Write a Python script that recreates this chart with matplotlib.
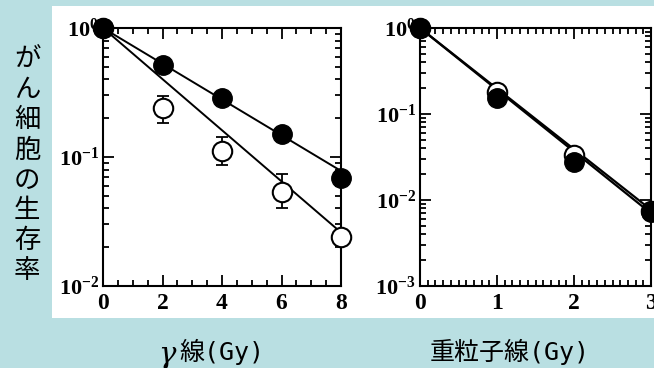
import numpy as np
import matplotlib.pyplot as plt
from matplotlib.ticker import MultipleLocator, LogLocator, FuncFormatter, NullFormatter

plt.rcParams['font.family'] = ['Noto Sans CJK JP', 'DejaVu Sans']
plt.rcParams['mathtext.fontset'] = 'custom'
plt.rcParams['mathtext.rm'] = 'Liberation Serif:bold'
plt.rcParams['mathtext.bf'] = 'Liberation Serif:bold'
plt.rcParams['mathtext.it'] = 'Liberation Serif:bold'

# γ線 データ
gamma_dose = [0, 2, 4, 6, 8]
gamma_filled = [1.0, 0.52, 0.285, 0.152, 0.069]
gamma_open = [1.0, 0.24, 0.112, 0.054, 0.024]
gamma_open_lo = [0.0, 0.185, 0.087, 0.040, 0.0]
gamma_open_hi = [0.0, 0.295, 0.143, 0.074, 0.0]
gamma_fit_filled = [1.0, 0.078]
gamma_fit_open = [1.0, 0.026]

# 重粒子線 データ
heavy_dose = [0, 1, 2, 3]
heavy_filled = [1.0, 0.155, 0.028, 0.0073]
heavy_open = [1.0, 0.178, 0.033, 0.0075]
heavy_open_hi = [0.0, 0.215, 0.0, 0.0]
heavy_fit_a = [1.0, 0.0070]
heavy_fit_b = [1.0, 0.0077]

bg = '#b9dfe2'
fig = plt.figure(figsize=(6.54, 3.68), dpi=100, facecolor='white')
W, H = 654, 368


def strip(l, t, r, b):
    fig.patches.append(plt.Rectangle((l / W, 1 - b / H), (r - l) / W, (b - t) / H,
                                     transform=fig.transFigure, facecolor=bg,
                                     edgecolor='none', zorder=-10))


# 周りの水色の枠（白いパネルの外側）
strip(0, 0, 52, 368)
strip(0, 0, 654, 6)
strip(0, 318, 654, 368)


def box(l, t, r, b):
    return [l / W, 1 - b / H, (r - l) / W, (b - t) / H]


def sci(v, pos):
    e = int(round(np.log10(v)))
    return r'$10^{%d}$' % e


def style(ax, xmin_step):
    ax.set_yscale('log')
    ax.set_facecolor('white')
    ax.xaxis.set_minor_locator(MultipleLocator(xmin_step))
    ax.yaxis.set_major_locator(LogLocator(base=10))
    ax.yaxis.set_minor_locator(LogLocator(base=10, subs=np.arange(2, 10)))
    ax.yaxis.set_major_formatter(FuncFormatter(sci))
    ax.yaxis.set_minor_formatter(NullFormatter())
    ax.tick_params(which='both', direction='in', top=True, right=True, width=1.3)
    ax.tick_params(which='major', length=8)
    ax.tick_params(which='minor', length=4)
    ax.tick_params(axis='y', labelsize=16, pad=3)
    ax.tick_params(axis='x', labelsize=17, pad=5)
    for lab in ax.get_xticklabels():
        lab.set_fontfamily('Liberation Serif')
        lab.set_fontweight('bold')
    for s in ax.spines.values():
        s.set_linewidth(1.5)


# 左: γ線
ax1 = fig.add_axes(box(103, 28, 341, 286))
ax1.plot([0, 8], gamma_fit_filled, color='black', lw=1.4, zorder=2)
ax1.plot([0, 8], gamma_fit_open, color='black', lw=1.4, zorder=2)
idx = [1, 2, 3]
ax1.errorbar([gamma_dose[i] for i in idx], [gamma_open[i] for i in idx],
             yerr=[[gamma_open[i] - gamma_open_lo[i] for i in idx],
                   [gamma_open_hi[i] - gamma_open[i] for i in idx]],
             fmt='none', ecolor='black', elinewidth=1.3, capsize=4, capthick=1.3, zorder=3)
ax1.plot(gamma_dose, gamma_open, 'o', ms=14, mfc='white', mec='black', mew=1.5,
         zorder=4, clip_on=False)
ax1.plot(gamma_dose, gamma_filled, 'o', ms=14, mfc='black', mec='black',
         zorder=5, clip_on=False)
ax1.set_xlim(0, 8)
ax1.set_ylim(1e-2, 1)
ax1.set_xticks([0, 2, 4, 6, 8])
style(ax1, 0.5)

# 右: 重粒子線
ax2 = fig.add_axes(box(420, 28, 651, 286))
ax2.plot([0, 3], heavy_fit_a, color='black', lw=1.6, zorder=2)
ax2.plot([0, 3], heavy_fit_b, color='black', lw=1.6, zorder=2)
ax2.errorbar([heavy_dose[1]], [heavy_open[1]], yerr=[[0], [heavy_open_hi[1] - heavy_open[1]]],
             fmt='none', ecolor='black', elinewidth=1.3, capsize=4, capthick=1.3, zorder=3)
ax2.plot(heavy_dose, heavy_open, 'o', ms=14, mfc='white', mec='black', mew=1.5,
         zorder=4, clip_on=False)
ax2.plot(heavy_dose, heavy_filled, 'o', ms=14, mfc='black', mec='black',
         zorder=5, clip_on=False)
ax2.set_xlim(0, 3)
ax2.set_ylim(1e-3, 1)
ax2.set_xticks([0, 1, 2, 3])
style(ax2, 0.1)

# 軸ラベル
ylab = 'がん細胞の生存率'
fig.text(27 / W, 1 - 165 / H, '\n'.join(ylab), fontsize=19, ha='center', va='center',
         linespacing=1.15, color='black')
mixed = ['DejaVu Sans Mono', 'Noto Sans CJK JP']
fig.text(167 / W, 1 - 355 / H, 'γ', fontsize=21, ha='center', va='center',
         family='DejaVu Serif', style='italic')
fig.text(179 / W, 1 - 352 / H, '線(Gy)', fontsize=18, ha='left', va='center',
         family=mixed)
fig.text(510 / W, 1 - 352 / H, '重粒子線(Gy)', fontsize=18, ha='center', va='center',
         family=mixed)

fig.savefig('out.png', dpi=100, facecolor='white')
